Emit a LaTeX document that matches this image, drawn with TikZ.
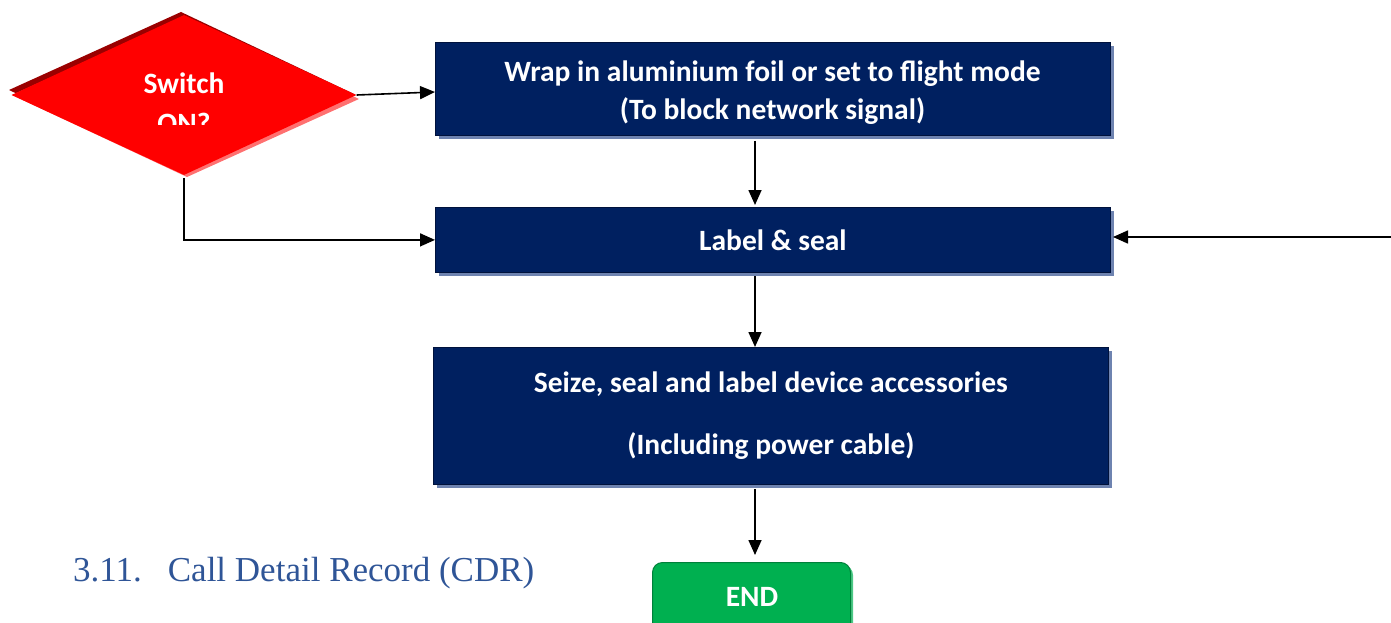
\documentclass[tikz,border=0pt]{standalone}
\usepackage{fontspec}
\setmainfont{Liberation Serif}
\newfontfamily\boxfont{Carlito}
\usetikzlibrary{shapes.geometric,arrows.meta}
\definecolor{navy}{HTML}{002060}
\definecolor{navyshadow}{HTML}{6E83B0}
\definecolor{navyedge}{HTML}{00123C}
\definecolor{dred}{HTML}{FF0000}
\definecolor{dredshadow}{HTML}{9A0000}
\definecolor{lredshadow}{HTML}{FF7070}
\definecolor{endgreen}{HTML}{00B050}
\definecolor{endedge}{HTML}{00803A}
\definecolor{headblue}{HTML}{2F5597}
\tikzset{
  procbox/.style={draw=navyedge, line width=0.8pt, fill=navy, text=white, font=\boxfont\bfseries\fontsize{29.5}{38}\selectfont, align=center, inner sep=0pt, anchor=north west},
  boxshadow/.style={fill=navyshadow, draw=none},
  wtext/.style={text=white, font=\boxfont\bfseries\fontsize{29.5}{34}\selectfont, inner sep=0pt, anchor=base},
  conn/.style={line width=1.6pt, -{Triangle[length=15pt,width=13pt]}},
}
\begin{document}
\begin{tikzpicture}[x=1pt,y=-1pt]
\useasboundingbox (0,0) rectangle (1391,623);
% decision diamond with shadows
\fill[dredshadow] (9,90) -- (181,12) -- (354,94) -- (183,172) -- cycle;
\fill[lredshadow] (12,95) -- (185,17) -- (359,99) -- (187,177) -- cycle;
\node[diamond, fill=dred, minimum width=345pt, minimum height=160pt, inner sep=0pt, aspect=2.15] (dec) at (184,95) {};
\node[wtext] (dectxt) at (184,94) {Switch};
\begin{scope}
\clip (100,100) rectangle (280,125);
\node[wtext] (dectxt2) at (184,133) {ON?};
\end{scope}
% box 1
\fill[boxshadow] (439,46) rectangle (1114,139);
\node[procbox, minimum width=675pt, minimum height=93pt] (b1) at (435,42) {};
\node[text=white, font=\boxfont\bfseries\fontsize{29.5}{38}\selectfont, align=center, inner sep=0pt] (b1txt) at (772.5,93) {Wrap in aluminium foil or set to flight mode\\(To block network signal)};
% box 2
\fill[boxshadow] (439,211) rectangle (1114,276);
\node[procbox, minimum width=675pt, minimum height=65pt] (b2) at (435,207) {Label \& seal};
% box 3
\fill[boxshadow] (437,351) rectangle (1112,488);
\node[procbox, minimum width=675pt, minimum height=137pt, font=\boxfont\bfseries\fontsize{29.5}{62}\selectfont] (b3) at (433,347) {Seize, seal and label device accessories\\(Including power cable)};
% END
\fill[endgreen!70!white, rounded corners=10pt] (655,565) rectangle (853,640);
\node[draw=endedge, line width=1pt, fill=endgreen, rounded corners=10pt, minimum width=198pt, minimum height=80pt, anchor=north west, inner sep=0pt] (end) at (652,562) {};
\node[wtext] (endtxt) at (752,606) {END};
% heading
\node[text=headblue, font=\fontsize{35}{40}\selectfont, anchor=base west, inner sep=0pt] (head) at (73,581) {3.11.\hspace{26pt}Call Detail Record (CDR)};
% connectors
\coordinate (rin) at (1391,237);
\draw[conn] (dec.east) -- (b1.west |- 0,92);
\draw[conn] (b1.south -| 755,0) ++(0,5) -- (755,205);
\draw[conn] (dec.south) ++(0,3) |- (b2.west);
\draw[conn] (rin) -- (1113,237);
\draw[conn] (755,276) -- (b3.north -| 755,0);
\draw[conn] (755,489) -- (755,555);
\end{tikzpicture}
\end{document}
